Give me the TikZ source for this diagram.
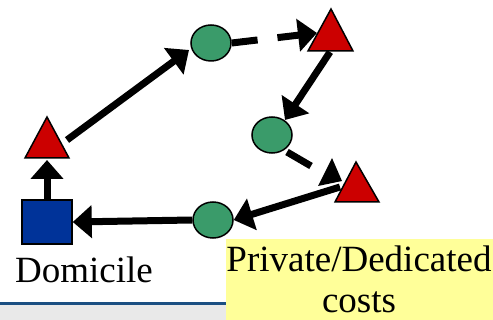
\documentclass[tikz,border=0pt]{standalone}
\usepackage{fontspec}
\setmainfont{Liberation Serif}
\usetikzlibrary{arrows.meta,shapes.geometric}
\definecolor{tripred}{HTML}{CC0000}
\definecolor{stopgreen}{HTML}{3A9B6A}
\definecolor{homeblue}{HTML}{003399}
\definecolor{notebg}{HTML}{FFFF99}
\definecolor{rulegray}{HTML}{E9E9E9}
\definecolor{ruleblue}{HTML}{1B4F82}
\tikzset{
  stop/.style={ellipse, draw=black, line width=1.5pt, fill=stopgreen,
    minimum width=40pt, minimum height=36pt, inner sep=0pt},
  home/.style={rectangle, draw=black, line width=1.5pt, fill=homeblue,
    minimum width=50pt, minimum height=44pt, inner sep=0pt},
  visit/.style={draw=black, line width=1.5pt, fill=tripred, line join=miter},
  leg/.style={line width=7pt, -{Triangle[length=19pt,width=32pt]}},
  label/.style={font=\fontsize{37}{43}\selectfont, inner sep=0pt}
}
\begin{document}
\begin{tikzpicture}[x=1pt,y=-1pt]
  \useasboundingbox (0,0) rectangle (493,320);

  % footer band
  \fill[rulegray] (0,305) rectangle (226,320);
  \draw[ruleblue, line width=3pt] (0,304) -- (226,304);

  % red stops (triangles)
  \draw[visit] (47,117) -- (69,158) -- (25,158) -- cycle;
  \draw[visit] (331,9) -- (353,51) -- (308,51) -- cycle;
  \draw[visit] (356,162) -- (379,202) -- (335,202) -- cycle;
  \coordinate (t1in) at (47,160);
  \coordinate (t1out) at (67,140);
  \coordinate (t2in) at (317,33);
  \coordinate (t2out) at (330,52);
  \coordinate (t3out) at (340,187);
  \coordinate (t3in) at (311,166);

  % green stops and home
  \node[stop] (e1) at (211,43) {};
  \node[stop] (e2) at (272,135) {};
  \node[stop] (e3) at (213,220) {};
  \node[home] (dom) at (47,222) {};

  % trip legs
  \draw[leg] (dom.north) -- (t1in);
  \draw[leg] (t1out) -- (189,50);
  \draw[leg, dash pattern=on 26pt off 20pt on 80pt] (e1.east) -- (t2in);
  \draw[leg] (t2out) -- (285,120);
  \draw[line width=7pt] (287,152) -- (t3in);
  \fill[black] (332,158) -- (342,181) -- (318,186) -- cycle;
  \draw[leg] (t3out) -- (e3.east);
  \draw[leg] (e3.west) -- (dom.east);

  % labels
  \node[label, anchor=base] (domlabel) at (84,283) {Domicile};
  \fill[notebg] (226,239) rectangle (493,320);
  \node[label, anchor=base] (note1) at (359,272) {Private/Dedicated};
  \node[label, anchor=base] (note2) at (359,313) {costs};
\end{tikzpicture}
\end{document}
